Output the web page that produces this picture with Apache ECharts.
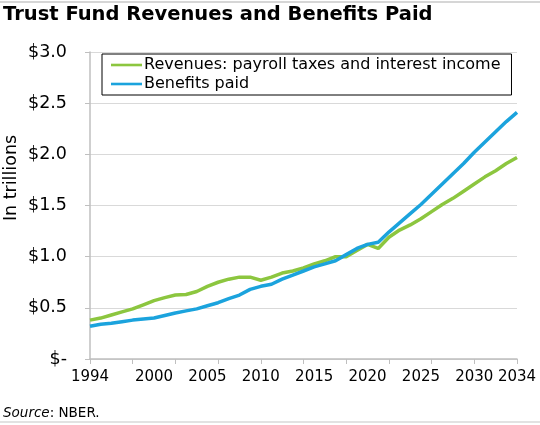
<!DOCTYPE html>
<html><head><meta charset="utf-8">
<script src="https://cdn.jsdelivr.net/npm/echarts@6/dist/echarts.min.js"></script>
<style>html,body{margin:0;padding:0;background:#fff}#c{width:540px;height:425px}</style>
</head><body><div id="c"></div>
<script>
var years = [];
for (var y = 1994; y <= 2034; y++) years.push(String(y));
var labelYears = ['1994','2000','2005','2010','2015','2020','2025','2030','2034'];
var revenues = [0.38,0.40,0.43,0.46,0.49,0.53,0.57,0.60,0.625,0.63,0.66,0.71,0.75,0.78,0.80,0.80,0.77,0.80,0.84,0.86,0.89,0.93,0.96,1.00,1.00,1.06,1.12,1.08,1.19,1.26,1.31,1.37,1.44,1.51,1.57,1.64,1.71,1.78,1.84,1.91,1.97];
var benefits = [0.32,0.34,0.35,0.365,0.38,0.39,0.40,0.425,0.45,0.47,0.49,0.52,0.55,0.59,0.625,0.68,0.71,0.73,0.78,0.82,0.86,0.90,0.93,0.96,1.02,1.08,1.12,1.14,1.24,1.33,1.42,1.51,1.61,1.71,1.81,1.91,2.02,2.12,2.22,2.32,2.41];
var seriesNames = ['Revenues: payroll taxes and interest income','Benefits paid'];
var FONT = '"DejaVu Sans", Verdana, sans-serif';
var chart = echarts.init(document.getElementById('c'), null, {renderer:'canvas'});
chart.setOption({
  animation:false,
  textStyle:{fontFamily:FONT},
  grid:{left:90,right:23,top:52,bottom:66,containLabel:false},
  graphic:[
    {type:'line',shape:{x1:0,y1:2,x2:540,y2:2},style:{stroke:'#c8c8c8',lineWidth:1.5}},
    {type:'line',shape:{x1:0,y1:422,x2:540,y2:422},style:{stroke:'#d8d8d8',lineWidth:1.5}},
    {type:'text',left:3,top:5,style:{text:'Trust Fund Revenues and Benefits Paid',font:'bold 19.5px '+FONT,fill:'#000'}},
    {type:'text',left:3,top:406,style:{rich:{i:{fontStyle:'italic',fontSize:13.5,fontFamily:FONT,fill:'#000'},n:{fontSize:13.5,fontFamily:FONT,fill:'#000'}},text:'{i|Source}{n|: NBER.}'}},
    {type:'text',x:11,y:178,rotation:Math.PI/2,style:{text:'In trillions',font:'17.5px '+FONT,fill:'#000',align:'center',verticalAlign:'middle'}}
  ],
  legend:{
    orient:'vertical',left:102,top:54,
    padding:[3,11,3,9],itemGap:3,
    borderColor:'#000',borderWidth:1,backgroundColor:'#fff',
    itemWidth:31,itemHeight:16,
    icon:'path://M0,6.7 L31,6.7 L31,9.3 L0,9.3 Z',
    textStyle:{fontSize:16,color:'#000',padding:[0,0,0,-3],fontFamily:FONT},
    data:seriesNames
  },
  xAxis:{
    type:'category',data:years,boundaryGap:false,
    axisLine:{lineStyle:{color:'#bfbfbf',width:1.5}},
    axisTick:{interval:3,length:5,lineStyle:{color:'#bfbfbf'}},
    axisLabel:{interval:function(i,v){return labelYears.indexOf(v)>=0;},fontSize:15,color:'#000',margin:11,fontFamily:FONT},
    splitLine:{show:false}
  },
  yAxis:{
    type:'value',min:0,max:3,interval:0.5,
    axisLine:{show:true,lineStyle:{color:'#bfbfbf',width:1.5}},
    axisTick:{show:true,length:5,lineStyle:{color:'#bfbfbf'}},
    axisLabel:{fontSize:17.5,color:'#000',margin:23,fontFamily:FONT,formatter:function(v){return v===0?'$-':'$'+v.toFixed(1);}},
    splitLine:{lineStyle:{color:'#d9d9d9',width:1}}
  },
  series:[
    {name:seriesNames[0],type:'line',data:revenues,symbol:'none',lineStyle:{color:'#8cc63f',width:3.5},itemStyle:{color:'#8cc63f'},z:2},
    {name:seriesNames[1],type:'line',data:benefits,symbol:'none',lineStyle:{color:'#1ba3dd',width:3.5},itemStyle:{color:'#1ba3dd'},z:3}
  ]
});
</script></body></html>
